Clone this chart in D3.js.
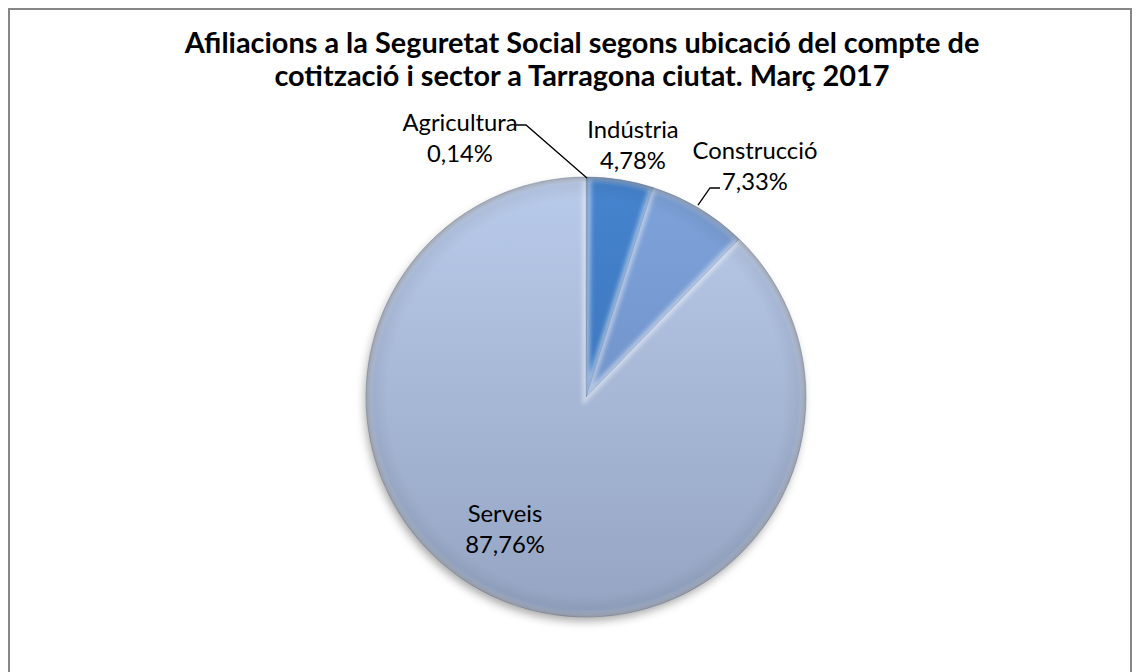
<!DOCTYPE html>
<html><head><meta charset="utf-8">
<script src="https://cdn.jsdelivr.net/npm/d3@7"></script>
<style>html,body{margin:0;padding:0;background:#fff;}svg{display:block;}</style>
</head><body>
<svg id="c" width="1146" height="672"></svg>
<script>
const titleLines = ["Afiliacions a la Seguretat Social segons ubicació del compte de",
                    "cotització i sector a Tarragona ciutat. Març 2017"];
const sectors = ["Agricultura", "Indústria", "Construcció", "Serveis"];
const shares = [0.14, 4.78, 7.33, 87.76];
const valueLabels = ["0,14%", "4,78%", "7,33%", "87,76%"];

const W = 1146, H = 672, FONT = "Lato, 'Open Sans', sans-serif";
const svg = d3.select("#c");
const defs = svg.append("defs");

// border
svg.append("path").attr("d", `M9,${H+2} V9 H1131 V${H+2}`)
  .attr("fill", "none").attr("stroke", "#878787").attr("stroke-width", 2);

// title (one text element, two lines)
const title = svg.append("text")
  .attr("x", 582).attr("y", 53)
  .attr("text-anchor", "middle").attr("font-family", FONT).attr("font-weight", "bold")
  .attr("font-size", 24).attr("fill", "#000");
const tsp = title.selectAll("tspan").data(titleLines).join("tspan")
  .attr("x", 582).attr("dy", (d, i) => i === 0 ? 0 : 33).text(d => d);
const w0 = tsp.nodes()[0].getComputedTextLength();
title.attr("font-size", 24 * 795 / w0);

// pie
const cx = 586, cy = 397, R = 220;
const pie = d3.pie().sort(null).value(d => d)(shares);
const arc = d3.arc().innerRadius(0).outerRadius(R);

const cols = [
  ["#3a6aa8", "#2c5590"],
  ["#4684cf", "#3469ad"],
  ["#7ea3da", "#6585bd"],
  ["#b9cbea", "#94a4c2"]
];
cols.forEach((c, i) => {
  const g = defs.append("linearGradient").attr("id", "g" + i)
    .attr("gradientUnits", "userSpaceOnUse")
    .attr("x1", 0).attr("y1", -R).attr("x2", 0).attr("y2", R);
  g.append("stop").attr("offset", 0).attr("stop-color", c[0]);
  g.append("stop").attr("offset", 1).attr("stop-color", c[1]);
});
const rim = defs.append("radialGradient").attr("id", "rim")
  .attr("gradientUnits", "userSpaceOnUse").attr("cx", 0).attr("cy", 0).attr("r", R);
rim.append("stop").attr("offset", 0.9).attr("stop-color", "#000").attr("stop-opacity", 0);
rim.append("stop").attr("offset", 0.975).attr("stop-color", "#000").attr("stop-opacity", 0.06);
rim.append("stop").attr("offset", 1).attr("stop-color", "#000").attr("stop-opacity", 0.25);

const sh = defs.append("filter").attr("id", "sh").attr("x", "-20%").attr("y", "-20%").attr("width", "140%").attr("height", "140%");
sh.append("feDropShadow").attr("dx", -2).attr("dy", 5).attr("stdDeviation", 5)
  .attr("flood-color", "#000").attr("flood-opacity", 0.35);
const bl = defs.append("filter").attr("id", "bl");
bl.append("feGaussianBlur").attr("stdDeviation", 2);

pie.forEach((p, i) => {
  defs.append("clipPath").attr("id", "cp" + i).append("path").attr("d", arc(p));
});

const pg = svg.append("g").attr("transform", `translate(${cx},${cy})`);
const shadowG = pg.append("g").attr("filter", "url(#sh)");
shadowG.append("circle").attr("r", R - 1).attr("fill", "#a9b9d6");

pg.selectAll("path.slice").data(pie).join("path").attr("class", "slice")
  .attr("d", arc).attr("fill", (d, i) => `url(#g${i})`)
  .attr("stroke", "rgba(40,60,100,0.35)").attr("stroke-width", 0.8);

// bevel highlight along each slice's edges
pg.selectAll("path.hl").data(pie).join("path").attr("class", "hl")
  .attr("d", arc).attr("fill", "none").attr("stroke", "#fff")
  .attr("stroke-width", 7).attr("stroke-opacity", 0.45)
  .attr("clip-path", (d, i) => `url(#cp${i})`).attr("filter", "url(#bl)");

pg.append("circle").attr("r", R).attr("fill", "url(#rim)");

// labels
const lf = svg.append("g").attr("font-family", FONT).attr("fill", "#000");
const probe = lf.append("text").attr("font-size", 20).text(sectors[2]);
const fs = 20 * 125 / probe.node().getComputedTextLength();
probe.remove();

const labelPos = [
  [cx - 126, cy - 266], [cx + 47, cy - 259], [cx + 169, cy - 238], [cx - 81, cy + 125]
];
const gap = 31;
sectors.forEach((s, i) => {
  const t = lf.append("text").attr("text-anchor", "middle").attr("font-size", fs)
    .attr("x", labelPos[i][0]).attr("y", labelPos[i][1]);
  t.append("tspan").attr("x", labelPos[i][0]).text(s);
  t.append("tspan").attr("x", labelPos[i][0]).attr("dy", gap).text(valueLabels[i]);
});

// leader lines
function edgePoint(p) {
  const a = (p.startAngle + p.endAngle) / 2;
  return [cx + R * Math.sin(a), cy - R * Math.cos(a)];
}
const eA = edgePoint(pie[0]);
const eC = edgePoint(pie[2]);
const lead = d3.line();
svg.append("path").attr("d", lead([[cx - 72, cy - 272], [cx - 60, cy - 272], [eA[0], eA[1] + 1]]))
  .attr("fill", "none").attr("stroke", "#000").attr("stroke-width", 1.3);
svg.append("path").attr("d", lead([[cx + 134, cy - 209], [cx + 124, cy - 209], [eC[0] - 1, eC[1] - 3]]))
  .attr("fill", "none").attr("stroke", "#000").attr("stroke-width", 1.3);
</script>
</body></html>
